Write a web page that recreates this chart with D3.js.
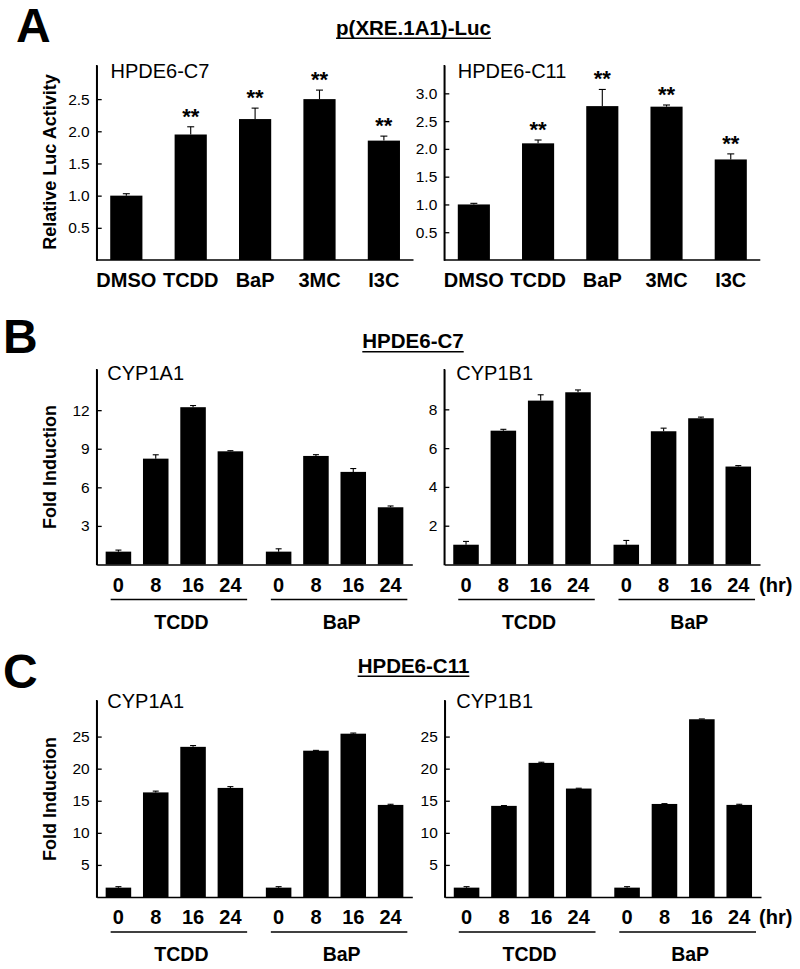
<!DOCTYPE html>
<html><head><meta charset="utf-8">
<script src="https://cdn.jsdelivr.net/npm/d3@7"></script>
<style>
body{margin:0;background:#fff}
svg text{font-family:"Liberation Sans",Arial,sans-serif;fill:#000}
</style></head><body>
<svg id="fig" width="800" height="969"></svg>
<script>
// ---------- data ----------
const aCats = ["DMSO","TCDD","BaP","3MC","I3C"];
const aSig = [false,true,true,true,true];
const aC7Vals = [1.00,1.95,2.19,2.50,1.855];
const aC7Errs = [0.03,0.12,0.17,0.14,0.07];
const aC11Vals = [1.00,2.10,2.77,2.76,1.81];
const aC11Errs = [0.02,0.06,0.30,0.03,0.10];
const aC7Ticks = [0.5,1.0,1.5,2.0,2.5];
const aC11Ticks = [0.5,1.0,1.5,2.0,2.5,3.0];

const groups = ["TCDD","BaP"];
const times = ["0","8","16","24"];

const bC7A1Vals = {TCDD:[1.0,8.23,12.23,8.8], BaP:[1.0,8.44,7.2,4.45]};
const bC7A1Errs = {TCDD:[0.12,0.3,0.13,0.05], BaP:[0.22,0.1,0.26,0.1]};
const bC7B1Vals = {TCDD:[1.02,6.9,8.45,8.88], BaP:[1.02,6.87,7.54,5.05]};
const bC7B1Errs = {TCDD:[0.17,0.07,0.3,0.12], BaP:[0.22,0.16,0.06,0.05]};
const bA1Ticks = [3,6,9,12];
const bB1Ticks = [2,4,6,8];

const cC11A1Vals = {TCDD:[1.46,16.3,23.4,17.0], BaP:[1.46,22.8,25.45,14.35]};
const cC11A1Errs = {TCDD:[0.15,0.2,0.2,0.2], BaP:[0.15,0.05,0.1,0.1]};
const cC11B1Vals = {TCDD:[1.46,14.2,20.9,16.9], BaP:[1.46,14.5,27.7,14.35]};
const cC11B1Errs = {TCDD:[0.15,0.05,0.1,0.05], BaP:[0.15,0.05,0.05,0.1]};
const cTicks = [5,10,15,20,25];

// ---------- drawing ----------
const FF = '"Liberation Sans",Arial,sans-serif';
const svg = d3.select("#fig");

function styleAxis(g, fs, bold){
  g.attr("font-family",FF).attr("font-size",fs);
  g.select(".domain").attr("stroke","#000").attr("stroke-width",1.5);
  g.selectAll(".tick line").attr("stroke","#000").attr("stroke-width",1.3);
  g.selectAll(".tick text").attr("fill","#000").attr("font-weight",bold?"bold":"normal");
}

function yAxis(y, x, ticks, fmt){
  const ax = d3.axisLeft(y).tickValues(ticks).tickFormat(fmt).tickSize(-5).tickSizeOuter(0).tickPadding(7);
  const g = svg.append("g").attr("transform",`translate(${x},0)`).call(ax);
  styleAxis(g,15.5,false);
}

function yLabel(text, cy){
  svg.append("text").attr("transform",`translate(49.5,${cy}) rotate(-90)`)
    .attr("text-anchor","middle").attr("dy","0.35em")
    .attr("font-size",18).attr("font-weight","bold").text(text);
}

function subLabel(text, x, y){
  svg.append("text").attr("x",x).attr("y",y).attr("font-size",20).text(text);
}

function errBar(cx, y, v, e, cap){
  svg.append("line").attr("x1",cx).attr("x2",cx).attr("y1",y(v)).attr("y2",y(v+e))
    .attr("stroke","#000").attr("stroke-width",1.1);
  svg.append("line").attr("x1",cx-cap).attr("x2",cx+cap).attr("y1",y(v+e)).attr("y2",y(v+e))
    .attr("stroke","#000").attr("stroke-width",1.1);
}

function chartA(cfg){
  const x = d3.scaleBand().domain(aCats).range([cfg.x0,cfg.x1]).paddingInner(0.5).paddingOuter(0.21);
  const y = d3.scaleLinear().domain([0,cfg.max]).range([cfg.base,cfg.top]);
  aCats.forEach((c,i)=>{
    const v = cfg.vals[i], e = cfg.errs[i];
    const cx = x(c)+x.bandwidth()/2;
    errBar(cx,y,v,e,3.5);
    svg.append("rect").attr("x",x(c)).attr("y",y(v)).attr("width",x.bandwidth())
      .attr("height",cfg.base-y(v)).attr("fill","#000");
    if(aSig[i]) svg.append("text").attr("x",cx).attr("y",y(v+e)-3).attr("text-anchor","middle")
      .attr("font-size",22).attr("font-weight","bold").text("**");
  });
  const gx = svg.append("g").attr("transform",`translate(0,${cfg.base})`)
    .call(d3.axisBottom(x).tickSize(0).tickSizeOuter(0).tickPadding(13));
  styleAxis(gx,20,true);
  gx.select(".domain").attr("d",`M${cfg.x0},0H${cfg.x1}`);
  yAxis(y,cfg.x0,cfg.ticks,d3.format(".1f"));
  svg.append("line").attr("x1",cfg.x0).attr("x2",cfg.x0).attr("y1",cfg.top).attr("y2",cfg.base+0.75)
    .attr("stroke","#000").attr("stroke-width",1.5);
}

function chartT(cfg){
  const outer = d3.scaleBand().domain(groups).range([cfg.x0,cfg.x1]).paddingInner(0.03).paddingOuter(0);
  const inner = d3.scaleBand().domain(times).range([0,outer.bandwidth()]).paddingInner(0.316).paddingOuter(0.24);
  const y = d3.scaleLinear().domain([0,cfg.max]).range([cfg.base,cfg.top]);
  groups.forEach(gname=>{
    const ox = outer(gname);
    times.forEach((t,i)=>{
      const v = cfg.vals[gname][i], e = cfg.errs[gname][i];
      const bx = ox+inner(t), cx = bx+inner.bandwidth()/2;
      errBar(cx,y,v,e,3);
      svg.append("rect").attr("x",bx).attr("y",y(v)).attr("width",inner.bandwidth())
        .attr("height",cfg.base-y(v)).attr("fill","#000");
    });
    const gl = svg.append("g").attr("transform",`translate(${ox},${cfg.base})`)
      .call(d3.axisBottom(inner).tickSize(0).tickSizeOuter(0).tickPadding(13));
    styleAxis(gl,20,true);
    gl.select(".domain").remove();
    const u0 = ox+inner(times[0])+5, u1 = ox+inner(times[3])+inner.bandwidth()+4;
    svg.append("line").attr("x1",u0).attr("x2",u1).attr("y1",cfg.base+35).attr("y2",cfg.base+35)
      .attr("stroke","#000").attr("stroke-width",1.5);
    svg.append("text").attr("x",(u0+u1)/2+2.5).attr("y",cfg.base+64).attr("text-anchor","middle")
      .attr("font-size",19.5).attr("font-weight","bold").text(gname);
  });
  const gx = svg.append("g").attr("transform",`translate(0,${cfg.base})`)
    .call(d3.axisBottom(outer).tickSize(0).tickSizeOuter(0).tickFormat(""));
  styleAxis(gx,10,false);
  yAxis(y,cfg.x0,cfg.ticks,d3.format("d"));
  svg.append("line").attr("x1",cfg.x0).attr("x2",cfg.x0).attr("y1",cfg.top).attr("y2",cfg.base+0.75)
    .attr("stroke","#000").attr("stroke-width",1.5);
  if(cfg.hr) svg.append("text").attr("x",759).attr("y",cfg.base+27).attr("font-size",20)
    .attr("font-weight","bold").text("(hr)");
}

function title(text, cx, y){
  const t = svg.append("text").attr("x",cx).attr("y",y).attr("text-anchor","middle")
    .attr("font-size",20.5).attr("font-weight","bold").text(text);
  const w = t.node().getComputedTextLength();
  svg.append("line").attr("x1",cx-w/2).attr("x2",cx+w/2).attr("y1",y+3.5).attr("y2",y+3.5)
    .attr("stroke","#000").attr("stroke-width",1.6);
}

function letter(t,x,y){
  svg.append("text").attr("x",x).attr("y",y).attr("font-size",48).attr("font-weight","bold").text(t);
}

// Panel A
letter("A",16,42);
title("p(XRE.1A1)-Luc",413.5,34.7);
chartA({x0:96.7,x1:413.5,top:65,base:260,max:3.03,vals:aC7Vals,errs:aC7Errs,ticks:aC7Ticks});
chartA({x0:444.3,x1:760.3,top:65,base:260,max:3.51,vals:aC11Vals,errs:aC11Errs,ticks:aC11Ticks});
yLabel("Relative Luc Activity",162);
subLabel("HPDE6-C7",110.5,78.3);
subLabel("HPDE6-C11",457.8,78.3);

// Panel B
letter("B",3,353.3);
title("HPDE6-C7",413,348.3);
chartT({x0:96.7,x1:412.3,top:369,base:564.5,max:15.2,vals:bC7A1Vals,errs:bC7A1Errs,ticks:bA1Ticks,hr:false});
chartT({x0:444.3,x1:760,top:369,base:564.5,max:10.08,vals:bC7B1Vals,errs:bC7B1Errs,ticks:bB1Ticks,hr:true});
yLabel("Fold Induction",467);
subLabel("CYP1A1",107.3,380);
subLabel("CYP1B1",456.3,379.5);

// Panel C
letter("C",3,687.5);
title("HPDE6-C11",413.5,672.7);
chartT({x0:96.7,x1:412.3,top:700,base:897,max:30.7,vals:cC11A1Vals,errs:cC11A1Errs,ticks:cTicks,hr:false});
chartT({x0:444.8,x1:761,top:700,base:897,max:30.7,vals:cC11B1Vals,errs:cC11B1Errs,ticks:cTicks,hr:true});
yLabel("Fold Induction",799);
subLabel("CYP1A1",107.3,708.3);
subLabel("CYP1B1",456.3,708.3);
</script>
</body></html>
